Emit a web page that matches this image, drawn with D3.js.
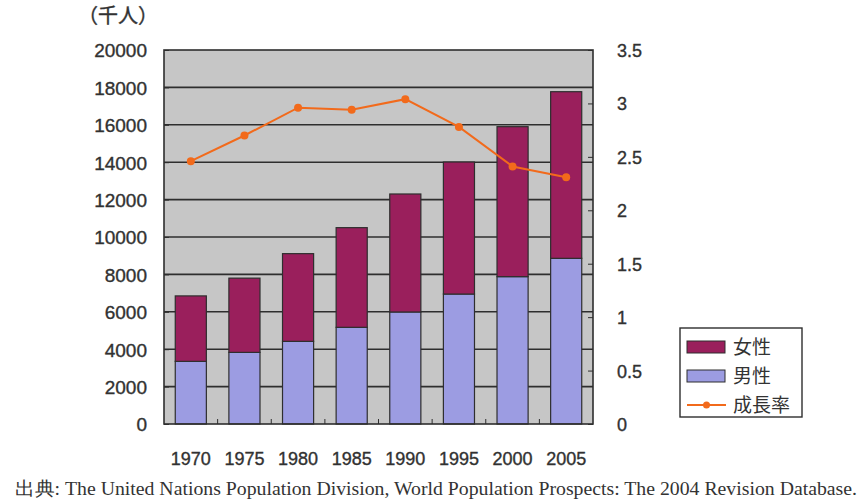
<!DOCTYPE html>
<html>
<head>
<meta charset="utf-8">
<script src="https://cdn.jsdelivr.net/npm/d3@7"></script>
<style>
  html, body { margin: 0; padding: 0; background: #fff; }
  svg { display: block; }
  text { fill: #333; }
  .heavy { stroke: #2e2e2e; stroke-width: 0.35px; }
</style>
</head>
<body>
<svg id="chart" width="862" height="501"></svg>
<script>
// Population (thousands) by sex and annual growth rate (%)
const years = ["1970", "1975", "1980", "1985", "1990", "1995", "2000", "2005"];
const male = [3350, 3830, 4420, 5170, 5990, 6950, 7880, 8860];
const female = [3500, 3970, 4690, 5330, 6310, 7060, 8020, 8910];
const growth = [2.46, 2.70, 2.96, 2.94, 3.04, 2.78, 2.41, 2.31];
const leftTicks = [0, 2000, 4000, 6000, 8000, 10000, 12000, 14000, 16000, 18000, 20000];
const rightTicks = [0, 0.5, 1, 1.5, 2, 2.5, 3, 3.5];
const seriesNames = ["女性", "男性", "成長率"];

const colFemale = "#9a1f5c";
const colMale = "#9c9ce2";
const colLine = "#f26a1b";
const dark = "#2e2e2e";

const svg = d3.select("#chart");
const plot = { left: 164, right: 593, top: 50, bottom: 424 };

const x = d3.scaleBand().domain(years).range([plot.left, plot.right]).paddingInner(0.42).paddingOuter(0.21);
const xBand = d3.scaleBand().domain(years).range([plot.left, plot.right]);
const yL = d3.scaleLinear().domain([0, 20000]).range([plot.bottom, plot.top]);
const yR = d3.scaleLinear().domain([0, 3.5]).range([plot.bottom, plot.top]);

// plot background
svg.append("rect")
  .attr("x", plot.left).attr("y", plot.top)
  .attr("width", plot.right - plot.left).attr("height", plot.bottom - plot.top)
  .attr("fill", "#c6c6c6");

// horizontal gridlines
svg.append("g").selectAll("line").data(leftTicks.slice(1, -1)).join("line")
  .attr("x1", plot.left).attr("x2", plot.right)
  .attr("y1", d => yL(d)).attr("y2", d => yL(d))
  .attr("stroke", dark).attr("stroke-width", 1.6);

// stacked bars
const stacked = years.map((yr, i) => ({ yr, m: male[i], f: female[i] }));
const bars = svg.append("g");
bars.selectAll(".m").data(stacked).join("rect")
  .attr("x", d => x(d.yr)).attr("width", x.bandwidth())
  .attr("y", d => yL(d.m)).attr("height", d => yL(0) - yL(d.m))
  .attr("fill", colMale).attr("stroke", dark).attr("stroke-width", 1.2);
bars.selectAll(".f").data(stacked).join("rect")
  .attr("x", d => x(d.yr)).attr("width", x.bandwidth())
  .attr("y", d => yL(d.m + d.f)).attr("height", d => yL(d.m) - yL(d.m + d.f))
  .attr("fill", colFemale).attr("stroke", dark).attr("stroke-width", 1.2);

// plot border
svg.append("rect")
  .attr("x", plot.left).attr("y", plot.top)
  .attr("width", plot.right - plot.left).attr("height", plot.bottom - plot.top)
  .attr("fill", "none").attr("stroke", dark).attr("stroke-width", 1.6);

// left axis
const axL = svg.append("g").attr("transform", `translate(${plot.left},0)`)
  .call(d3.axisLeft(yL).tickValues(leftTicks).tickSizeInner(-5).tickSizeOuter(0).tickPadding(17).tickFormat(d3.format("d")));
axL.select(".domain").remove();
axL.selectAll("line").attr("stroke", dark);
axL.selectAll("text").attr("class", "heavy").attr("font-family", "Liberation Sans, Arial, sans-serif")
  .attr("font-size", 19).attr("fill", dark).attr("dy", "0.36em");

// right axis
const axR = svg.append("g").attr("transform", `translate(${plot.right},0)`)
  .call(d3.axisRight(yR).tickValues(rightTicks).tickSizeInner(-5).tickSizeOuter(0).tickPadding(24).tickFormat(d => String(d)));
axR.select(".domain").remove();
axR.selectAll("line").attr("stroke", dark);
axR.selectAll("text").attr("class", "heavy").attr("font-family", "Liberation Sans, Arial, sans-serif")
  .attr("font-size", 18).attr("fill", dark).attr("dy", "0.36em");

// bottom axis: labels under bars, ticks at category boundaries
const axB = svg.append("g").attr("transform", `translate(0,${plot.bottom})`)
  .call(d3.axisBottom(x).tickSize(0).tickPadding(41));
axB.select(".domain").remove();
axB.selectAll("text").attr("class", "heavy").attr("font-family", "Liberation Sans, Arial, sans-serif")
  .attr("font-size", 18).attr("fill", dark).attr("dy", "0");
svg.append("g").selectAll("line").data(years.slice(1)).join("line")
  .attr("x1", d => xBand(d)).attr("x2", d => xBand(d))
  .attr("y1", plot.bottom).attr("y2", plot.bottom - 5)
  .attr("stroke", dark);

// growth rate line
const cx = d => x(d) + x.bandwidth() / 2;
const line = d3.line().x((d, i) => cx(years[i])).y(d => yR(d));
svg.append("path").datum(growth)
  .attr("d", line).attr("fill", "none").attr("stroke", colLine).attr("stroke-width", 2);
svg.append("g").selectAll("circle").data(growth).join("circle")
  .attr("cx", (d, i) => cx(years[i])).attr("cy", d => yR(d)).attr("r", 4)
  .attr("fill", colLine);

// unit label
svg.append("text").attr("x", 78).attr("y", 23).attr("class", "heavy")
  .attr("font-family", "Noto Sans CJK JP, sans-serif").attr("font-size", 20).attr("fill", dark)
  .text("（千人）");

// legend
const lg = svg.append("g");
lg.append("rect").attr("x", 680).attr("y", 328).attr("width", 122).attr("height", 89)
  .attr("fill", "#fff").attr("stroke", dark).attr("stroke-width", 1.4);
const ly = [347, 376, 405];
lg.append("rect").attr("x", 687).attr("y", ly[0] - 6).attr("width", 38).attr("height", 12)
  .attr("fill", colFemale).attr("stroke", dark);
lg.append("rect").attr("x", 687).attr("y", ly[1] - 6).attr("width", 38).attr("height", 12)
  .attr("fill", colMale).attr("stroke", dark);
lg.append("line").attr("x1", 687).attr("x2", 726).attr("y1", ly[2]).attr("y2", ly[2])
  .attr("stroke", colLine).attr("stroke-width", 2);
lg.append("circle").attr("cx", 706.5).attr("cy", ly[2]).attr("r", 3.5).attr("fill", colLine);
lg.selectAll("text.lbl").data(seriesNames).join("text")
  .attr("x", 733).attr("y", (d, i) => ly[i]).attr("dy", "0.36em")
  .attr("font-family", "Noto Sans CJK JP, sans-serif").attr("font-size", 19).attr("fill", dark)
  .text(d => d);

// source note
svg.append("text").attr("x", 15).attr("y", 495)
  .attr("font-family", "Liberation Serif, Times New Roman, serif").attr("font-size", 19).attr("fill", dark)
  .attr("textLength", 842).attr("lengthAdjust", "spacingAndGlyphs")
  .text("出典: The United Nations Population Division, World Population Prospects: The 2004 Revision Database.");
</script>
</body>
</html>
